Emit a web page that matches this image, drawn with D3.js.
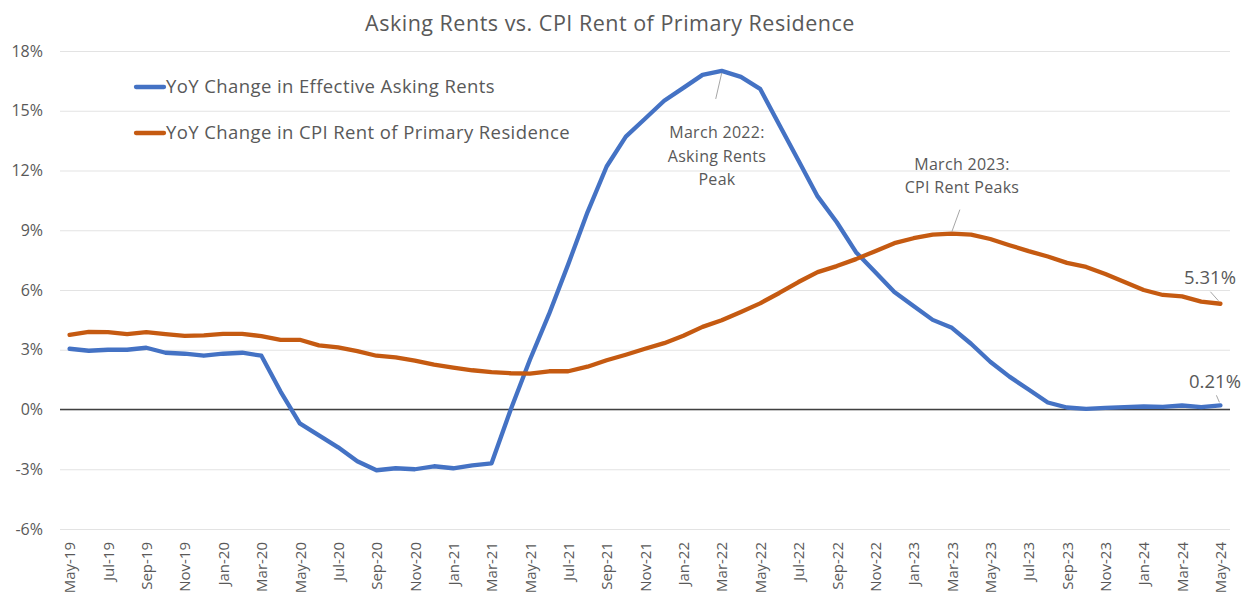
<!DOCTYPE html>
<html>
<head>
<meta charset="utf-8">
<script src="https://cdn.jsdelivr.net/npm/d3@7"></script>
<style>
  body { margin: 0; background: #fff; }
  text { font-family: "Open Sans", "Noto Sans", sans-serif; fill: #595959; }
</style>
</head>
<body>
<script>
// monthly categories, May-19 .. May-24
var months = ["May-19","Jun-19","Jul-19","Aug-19","Sep-19","Oct-19","Nov-19","Dec-19",
  "Jan-20","Feb-20","Mar-20","Apr-20","May-20","Jun-20","Jul-20","Aug-20","Sep-20","Oct-20","Nov-20","Dec-20",
  "Jan-21","Feb-21","Mar-21","Apr-21","May-21","Jun-21","Jul-21","Aug-21","Sep-21","Oct-21","Nov-21","Dec-21",
  "Jan-22","Feb-22","Mar-22","Apr-22","May-22","Jun-22","Jul-22","Aug-22","Sep-22","Oct-22","Nov-22","Dec-22",
  "Jan-23","Feb-23","Mar-23","Apr-23","May-23","Jun-23","Jul-23","Aug-23","Sep-23","Oct-23","Nov-23","Dec-23",
  "Jan-24","Feb-24","Mar-24","Apr-24","May-24"];

var askingRents = [3.05,2.95,3.0,3.0,3.1,2.85,2.8,2.7,
  2.8,2.85,2.7,0.9,-0.7,-1.3,-1.9,-2.6,-3.05,-2.95,-3.0,-2.85,
  -2.95,-2.8,-2.7,0.0,2.5,4.8,7.3,9.9,12.2,13.7,14.6,15.5,
  16.15,16.8,17.0,16.7,16.1,14.3,12.5,10.7,9.4,7.9,6.9,5.9,
  5.2,4.5,4.1,3.3,2.4,1.65,1.0,0.35,0.1,0.03,0.08,0.12,
  0.15,0.13,0.2,0.12,0.21];

var cpiRent = [3.75,3.9,3.88,3.78,3.88,3.78,3.7,3.72,
  3.8,3.8,3.68,3.5,3.5,3.22,3.12,2.93,2.7,2.62,2.45,2.25,
  2.1,1.97,1.88,1.82,1.8,1.92,1.92,2.15,2.47,2.75,3.05,3.33,
  3.7,4.15,4.48,4.9,5.33,5.85,6.4,6.9,7.2,7.55,7.95,8.35,
  8.6,8.78,8.83,8.78,8.56,8.25,7.95,7.68,7.36,7.16,6.8,6.4,
  6.0,5.75,5.68,5.42,5.31];

var yTicks = [-6,-3,0,3,6,9,12,15,18];
var seriesNames = ["YoY Change in Effective Asking Rents", "YoY Change in CPI Rent of Primary Residence"];

var width = 1250, height = 602;
var margin = {top: 51, right: 20, bottom: 73, left: 60};

var svg = d3.select("body").append("svg")
    .attr("width", width)
    .attr("height", height);

var x = d3.scalePoint()
    .domain(months)
    .range([margin.left, width - margin.right])
    .padding(0.5);

var y = d3.scaleLinear()
    .domain([-6, 18])
    .range([height - margin.bottom, margin.top]);

var color = d3.scaleOrdinal().domain(seriesNames).range(["#4472C4", "#C55A11"]);

// title
svg.append("text")
    .attr("x", 610)
    .attr("y", 31)
    .attr("text-anchor", "middle")
    .style("font-size", "21.5px")
    .style("letter-spacing", "0.5px")
    .text("Asking Rents vs. CPI Rent of Primary Residence");

// gridlines + y labels
var yAxis = d3.axisLeft(y)
    .tickValues(yTicks)
    .tickSize(-(width - margin.left - margin.right))
    .tickFormat(function(d) { return d + "%"; });

var gy = svg.append("g")
    .attr("transform", "translate(" + margin.left + ",0)")
    .call(yAxis);
gy.select(".domain").remove();
gy.selectAll(".tick line").attr("stroke", "#e3e3e3").attr("stroke-width", 1.2);
gy.selectAll(".tick text")
    .attr("x", -17)
    .style("font-size", "16px")
    .style("fill", "#595959");

// zero line
svg.append("line")
    .attr("x1", margin.left)
    .attr("x2", width - margin.right)
    .attr("y1", y(0))
    .attr("y2", y(0))
    .attr("stroke", "#404040")
    .attr("stroke-width", 1.3);

// x labels every other month
var xAxis = d3.axisBottom(x)
    .tickValues(months.filter(function(d, i) { return i % 2 == 0; }))
    .tickSize(0);

var gx = svg.append("g")
    .attr("transform", "translate(0," + (height - margin.bottom) + ")")
    .call(xAxis);
gx.select(".domain").remove();
gx.selectAll(".tick text")
    .attr("transform", "rotate(-90)")
    .attr("x", -13)
    .attr("y", 0)
    .attr("dy", "0.35em")
    .attr("text-anchor", "end")
    .style("font-size", "15px")
    .style("fill", "#595959");

// lines
var line = d3.line()
    .x(function(d, i) { return x(months[i]); })
    .y(function(d) { return y(d); });

[askingRents, cpiRent].forEach(function(s, k) {
    svg.append("path")
        .datum(s)
        .attr("fill", "none")
        .attr("stroke", color(seriesNames[k]))
        .attr("stroke-width", 4.3)
        .attr("stroke-linejoin", "round")
        .attr("stroke-linecap", "round")
        .attr("d", line);
});

// legend
seriesNames.forEach(function(name, k) {
    var ly = 87 + k * 46;
    svg.append("line")
        .attr("x1", 136).attr("x2", 164)
        .attr("y1", ly).attr("y2", ly)
        .attr("stroke", color(name))
        .attr("stroke-width", 4.3)
        .attr("stroke-linecap", "round");
    svg.append("text")
        .attr("x", 166)
        .attr("y", ly)
        .attr("dy", "0.35em")
        .style("font-size", "18.5px")
        .style("letter-spacing", "0.4px")
        .text(name);
});

// annotations
function note(lines, cx, cy, lh) {
    var t = svg.append("text")
        .attr("text-anchor", "middle")
        .style("font-size", "16px")
        .style("letter-spacing", "0.3px");
    lines.forEach(function(l, i) {
        t.append("tspan").attr("x", cx).attr("y", cy + i * lh).text(l);
    });
}
function leader(x1, y1, x2, y2) {
    svg.append("line")
        .attr("x1", x1).attr("y1", y1).attr("x2", x2).attr("y2", y2)
        .attr("stroke", "#a6a6a6").attr("stroke-width", 1);
}

var iPeakA = askingRents.indexOf(d3.max(askingRents));
var iPeakC = cpiRent.indexOf(d3.max(cpiRent));
var iLast = months.length - 1;

leader(x(months[iPeakA]) - 6, y(askingRents[iPeakA]) + 28, x(months[iPeakA]), y(askingRents[iPeakA]) + 2);
note(["March 2022:", "Asking Rents", "Peak"], 717, 138, 23.5);

leader(x(months[iPeakC]) + 8, y(cpiRent[iPeakC]) - 24, x(months[iPeakC]), y(cpiRent[iPeakC]) - 2);
note(["March 2023:", "CPI Rent Peaks"], 962, 170, 23);

leader(x(months[iLast]) - 10, y(cpiRent[iLast]) - 12, x(months[iLast]) - 2, y(cpiRent[iLast]) - 3);
svg.append("text")
    .attr("x", 1210).attr("y", 284)
    .attr("text-anchor", "middle")
    .style("font-size", "18.5px")
    .text(cpiRent[iLast].toFixed(2) + "%");

leader(x(months[iLast]) - 4, y(askingRents[iLast]) - 10, x(months[iLast]) - 1, y(askingRents[iLast]) - 3);
svg.append("text")
    .attr("x", 1215).attr("y", 388)
    .attr("text-anchor", "middle")
    .style("font-size", "18.5px")
    .text(askingRents[iLast].toFixed(2) + "%");
</script>
</body>
</html>
